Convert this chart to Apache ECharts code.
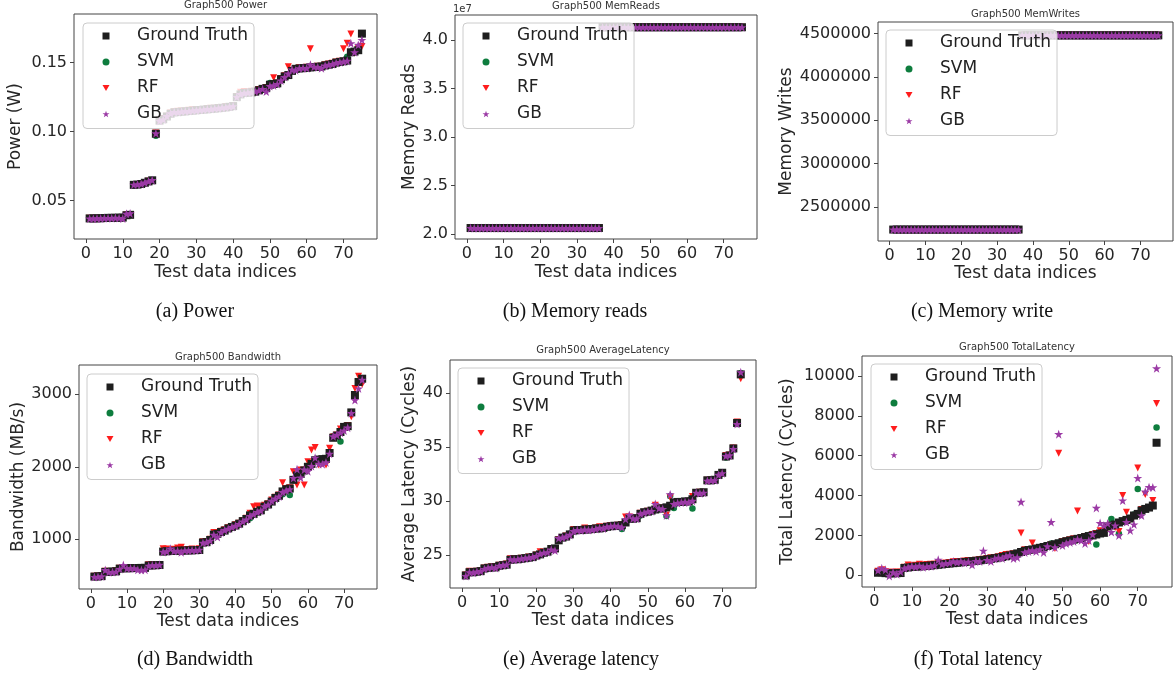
<!DOCTYPE html>
<html><head><meta charset="utf-8">
<script src="https://cdn.jsdelivr.net/npm/echarts@6/dist/echarts.min.js"></script>
<style>html,body{margin:0;padding:0;background:#fff}#c{width:1175px;height:676px}</style>
</head><body><div id="c"></div>
<script>
const indices = [1,2,3,4,5,6,7,8,9,10,11,12,13,14,15,16,17,18,19,20,21,22,23,24,25,26,27,28,29,30,31,32,33,34,35,36,37,38,39,40,41,42,43,44,45,46,47,48,49,50,51,52,53,54,55,56,57,58,59,60,61,62,63,64,65,66,67,68,69,70,71,72,73,74,75];
const modelNames = ['Ground Truth','SVM','RF','GB'];
const xTicks = [0,10,20,30,40,50,60,70];

// (a) Power (W)
const powerTicks = [0.05,0.10,0.15];
const powerGT = [
0.0372,0.0372,0.0373,0.0373,0.0375,0.0376,0.0376,0.0377,0.0377,0.0378,
0.0395,0.0398,0.0615,0.0617,0.0621,0.0630,0.0640,0.0648,0.0985,0.1080,
0.1090,0.1110,0.1130,0.1140,0.1142,0.1145,0.1147,0.1150,0.1152,0.1155,
0.1157,0.1160,0.1162,0.1165,0.1167,0.1170,0.1173,0.1176,0.1180,0.1185,
0.1250,0.1270,0.1280,0.1282,0.1285,0.1290,0.1300,0.1310,0.1315,0.1340,
0.1345,0.1350,0.1380,0.1400,0.1410,0.1440,0.1455,0.1458,0.1460,0.1462,
0.1465,0.1468,0.1470,0.1472,0.1480,0.1485,0.1490,0.1500,0.1505,0.1510,
0.1515,0.1575,0.1580,0.1590,0.1710];
const powerSVM = [
0.0371,0.0373,0.0372,0.0374,0.0376,0.0375,0.0377,0.0376,0.0378,0.0377,
0.0396,0.0399,0.0613,0.0616,0.0620,0.0632,0.0638,0.0650,0.0970,0.1082,
0.1092,0.1108,0.1128,0.1143,0.1140,0.1147,0.1145,0.1152,0.1150,0.1157,
0.1155,0.1162,0.1164,0.1163,0.1169,0.1168,0.1175,0.1174,0.1182,0.1183,
0.1252,0.1268,0.1283,0.1280,0.1288,0.1287,0.1303,0.1308,0.1318,0.1352,
0.1343,0.1353,0.1378,0.1402,0.1408,0.1442,0.1452,0.1460,0.1458,0.1464,
0.1463,0.1470,0.1468,0.1474,0.1478,0.1487,0.1488,0.1502,0.1503,0.1512,
0.1543,0.1572,0.1583,0.1588,0.1705];
const powerRF = [
0.0373,0.0371,0.0374,0.0372,0.0376,0.0377,0.0375,0.0378,0.0376,0.0379,
0.0397,0.0400,0.0618,0.0615,0.0623,0.0628,0.0642,0.0646,0.0990,0.1085,
0.1095,0.1112,0.1135,0.1145,0.1148,0.1150,0.1143,0.1155,0.1158,0.1152,
0.1160,0.1158,0.1166,0.1170,0.1164,0.1174,0.1170,0.1180,0.1178,0.1188,
0.1255,0.1285,0.1290,0.1278,0.1292,0.1283,0.1305,0.1312,0.1320,0.1338,
0.1390,0.1352,0.1385,0.1405,0.1470,0.1445,0.1450,0.1462,0.1457,0.1466,
0.1600,0.1465,0.1473,0.1470,0.1484,0.1490,0.1495,0.1505,0.1510,0.1600,
0.1640,0.1707,0.1570,0.1600,0.1616];
const powerGB = [
0.0371,0.0370,0.0372,0.0372,0.0374,0.0375,0.0374,0.0376,0.0375,0.0371,
0.0405,0.0408,0.0616,0.0618,0.0622,0.0631,0.0641,0.0649,0.0988,0.1078,
0.1088,0.1112,0.1132,0.1142,0.1141,0.1146,0.1148,0.1149,0.1153,0.1154,
0.1158,0.1159,0.1163,0.1164,0.1168,0.1169,0.1174,0.1175,0.1181,0.1184,
0.1251,0.1272,0.1279,0.1283,0.1284,0.1291,0.1298,0.1309,0.1290,0.1330,
0.1335,0.1345,0.1370,0.1395,0.1420,0.1450,0.1445,0.1459,0.1461,0.1460,
0.1485,0.1470,0.1467,0.1460,0.1478,0.1484,0.1489,0.1498,0.1503,0.1508,
0.1512,0.1640,0.1575,0.1628,0.1664];

// (b) Memory reads (x 1e7)
const readsTicks = [2.0,2.5,3.0,3.5,4.0];
const readsGT = [
2.062,2.062,2.062,2.062,2.062,2.062,2.062,2.062,2.062,2.062,
2.062,2.062,2.062,2.062,2.062,2.062,2.062,2.062,2.062,2.062,
2.062,2.062,2.062,2.062,2.062,2.062,2.062,2.062,2.062,2.062,
2.062,2.062,2.062,2.062,2.062,2.062,4.131,4.131,4.131,4.131,
4.131,4.131,4.131,4.131,4.131,4.131,4.131,4.131,4.131,4.131,
4.131,4.131,4.131,4.131,4.131,4.131,4.131,4.131,4.131,4.131,
4.131,4.131,4.131,4.131,4.131,4.131,4.131,4.131,4.131,4.131,
4.131,4.131,4.131,4.131,4.131];
const readsSVM = [
2.062,2.063,2.062,2.061,2.062,2.062,2.063,2.062,2.062,2.061,
2.062,2.062,2.063,2.062,2.062,2.061,2.062,2.062,2.063,2.062,
2.062,2.062,2.061,2.062,2.063,2.062,2.062,2.062,2.061,2.062,
2.062,2.063,2.062,2.062,2.061,2.062,4.130,4.131,4.131,4.132,
4.131,4.131,4.130,4.131,4.131,4.132,4.131,4.131,4.130,4.131,
4.131,4.131,4.132,4.131,4.130,4.131,4.131,4.131,4.132,4.131,
4.131,4.130,4.131,4.131,4.131,4.132,4.131,4.131,4.130,4.131,
4.131,4.131,4.132,4.131,4.131];
const readsRF = [
2.062,2.062,2.062,2.062,2.062,2.062,2.062,2.062,2.062,2.062,
2.062,2.062,2.062,2.062,2.062,2.062,2.062,2.062,2.062,2.062,
2.062,2.062,2.062,2.062,2.062,2.062,2.062,2.062,2.062,2.062,
2.062,2.062,2.062,2.062,2.062,2.062,4.131,4.131,4.131,4.131,
4.131,4.131,4.131,4.131,4.131,4.131,4.131,4.131,4.131,4.131,
4.131,4.131,4.131,4.131,4.131,4.131,4.131,4.131,4.131,4.131,
4.131,4.131,4.131,4.131,4.131,4.131,4.131,4.131,4.131,4.131,
4.131,4.131,4.131,4.131,4.131];
const readsGB = [
2.062,2.062,2.062,2.062,2.062,2.062,2.062,2.062,2.062,2.062,
2.062,2.062,2.062,2.062,2.062,2.062,2.062,2.062,2.062,2.062,
2.062,2.062,2.062,2.062,2.062,2.062,2.062,2.062,2.062,2.062,
2.062,2.062,2.062,2.062,2.062,2.062,4.131,4.131,4.131,4.131,
4.131,4.131,4.131,4.131,4.131,4.131,4.131,4.131,4.131,4.131,
4.131,4.131,4.131,4.131,4.131,4.131,4.131,4.131,4.131,4.131,
4.131,4.131,4.131,4.131,4.131,4.131,4.131,4.131,4.131,4.131,
4.131,4.131,4.131,4.131,4.131];

// (c) Memory writes
const writesTicks = [2500000,3000000,3500000,4000000,4500000];
const writesGT = [
2240000,2240000,2240000,2240000,2240000,2240000,2240000,2240000,2240000,2240000,
2240000,2240000,2240000,2240000,2240000,2240000,2240000,2240000,2240000,2240000,
2240000,2240000,2240000,2240000,2240000,2240000,2240000,2240000,2240000,2240000,
2240000,2240000,2240000,2240000,2240000,2240000,4480000,4480000,4480000,4480000,
4480000,4480000,4480000,4480000,4480000,4480000,4480000,4480000,4480000,4480000,
4480000,4480000,4480000,4480000,4480000,4480000,4480000,4480000,4480000,4480000,
4480000,4480000,4480000,4480000,4480000,4480000,4480000,4480000,4480000,4480000,
4480000,4480000,4480000,4480000,4480000];
const writesSVM = [
2241000,2240000,2239000,2240000,2241000,2240000,2240000,2239000,2240000,2241000,
2240000,2240000,2239000,2240000,2241000,2240000,2240000,2240000,2239000,2240000,
2241000,2240000,2240000,2239000,2240000,2241000,2240000,2240000,2239000,2240000,
2240000,2241000,2240000,2239000,2240000,2240000,4479000,4480000,4481000,4480000,
4480000,4479000,4480000,4481000,4480000,4480000,4479000,4480000,4481000,4480000,
4480000,4479000,4480000,4481000,4480000,4480000,4479000,4480000,4481000,4480000,
4480000,4479000,4480000,4481000,4480000,4480000,4479000,4480000,4481000,4480000,
4480000,4479000,4480000,4481000,4480000];
const writesRF = [
2240000,2240000,2240000,2240000,2240000,2240000,2240000,2240000,2240000,2240000,
2240000,2240000,2240000,2240000,2240000,2240000,2240000,2240000,2240000,2240000,
2240000,2240000,2240000,2240000,2240000,2240000,2240000,2240000,2240000,2240000,
2240000,2240000,2240000,2240000,2240000,2240000,4480000,4480000,4480000,4480000,
4480000,4480000,4480000,4480000,4480000,4480000,4480000,4480000,4480000,4480000,
4480000,4480000,4480000,4480000,4480000,4480000,4480000,4480000,4480000,4480000,
4480000,4480000,4480000,4480000,4480000,4480000,4480000,4480000,4480000,4480000,
4480000,4480000,4480000,4480000,4480000];
const writesGB = [
2240000,2240000,2240000,2240000,2240000,2240000,2240000,2240000,2240000,2240000,
2240000,2240000,2240000,2240000,2240000,2240000,2240000,2240000,2240000,2240000,
2240000,2240000,2240000,2240000,2240000,2240000,2240000,2240000,2240000,2240000,
2240000,2240000,2240000,2240000,2240000,2240000,4480000,4480000,4480000,4480000,
4480000,4480000,4480000,4480000,4480000,4480000,4480000,4480000,4480000,4480000,
4480000,4480000,4480000,4480000,4480000,4480000,4480000,4480000,4480000,4480000,
4480000,4480000,4480000,4480000,4480000,4480000,4480000,4480000,4480000,4480000,
4480000,4480000,4480000,4480000,4480000];

// (d) Bandwidth (MB/s)
const bwTicks = [1000,2000,3000];
const bwGT = [
485,488,492,550,552,555,558,595,600,600,
602,603,604,605,606,638,640,642,645,830,
835,838,840,842,843,845,846,848,850,852,
955,960,990,1065,1075,1100,1120,1150,1170,1190,
1215,1250,1280,1330,1350,1380,1400,1450,1480,1520,
1570,1600,1660,1690,1700,1820,1880,1900,1950,2000,
2040,2090,2100,2105,2110,2190,2400,2430,2480,2550,
2560,2750,2990,3170,3215];
const bwSVM = [
487,490,495,545,550,553,560,590,598,602,
600,605,600,603,608,636,642,640,648,828,
838,835,843,840,846,842,849,845,853,850,
958,962,985,1070,1072,1105,1118,1155,1165,1195,
1210,1255,1275,1290,1355,1375,1405,1445,1485,1515,
1575,1595,1620,1685,1610,1815,1885,1895,1945,2010,
2035,2095,2095,2110,2105,2195,2420,2440,2350,2545,
2565,2745,2985,3165,3210];
const bwRF = [
490,495,500,560,555,550,565,600,610,605,
610,600,608,600,612,650,645,650,650,870,
865,850,862,880,890,855,860,865,858,870,
965,970,1000,1095,1085,1110,1130,1160,1175,1200,
1220,1260,1290,1360,1450,1460,1445,1470,1490,1540,
1580,1610,1780,1700,1710,1930,1750,1955,1750,2070,
2230,2265,2025,2045,2025,2255,2410,2440,2520,2555,
2570,2690,3080,3250,3140];
const bwGB = [
480,482,488,575,545,548,552,590,645,598,
600,598,578,575,580,635,642,640,648,825,
832,870,838,840,820,845,843,850,848,855,
950,958,980,1060,1030,1095,1125,1145,1168,1185,
1210,1245,1270,1320,1345,1375,1395,1455,1475,1530,
1560,1590,1650,1670,1690,1845,1965,1850,1960,1940,
2010,2125,2040,2035,2060,2180,2420,2440,2470,2500,
2540,2740,2920,3080,3200];

// (e) Average latency (cycles)
const avgTicks = [25,30,35,40];
const avgGT = [
23.1,23.4,23.4,23.45,23.5,23.75,23.8,23.85,23.85,24.0,
24.05,24.1,24.55,24.6,24.6,24.65,24.7,24.75,24.8,24.95,
25.05,25.2,25.3,25.55,25.6,26.35,26.6,26.7,26.9,27.25,
27.3,27.3,27.35,27.35,27.4,27.45,27.45,27.5,27.6,27.65,
27.7,27.7,27.75,28.0,28.35,28.35,28.4,28.8,28.95,29.0,
29.1,29.2,29.3,29.3,29.4,29.55,29.85,29.9,29.9,29.95,
29.95,30.15,30.75,30.75,30.8,31.9,31.9,31.95,32.4,32.6,
34.1,34.2,34.85,37.2,41.7];
const avgSVM = [
23.1,23.35,23.45,23.4,23.55,23.7,23.85,23.8,23.9,24.0,
24.1,24.05,24.6,24.55,24.65,24.6,24.75,24.7,24.85,24.9,
25.1,25.15,25.35,25.5,25.65,26.3,26.65,26.65,26.95,27.2,
27.25,27.35,27.3,27.4,27.35,27.5,27.4,27.55,27.55,27.7,
27.65,27.75,27.4,28.1,28.3,28.4,28.35,28.65,28.9,29.05,
29.05,29.25,29.25,29.35,28.6,30.45,29.35,29.85,29.95,29.9,
30.0,29.3,30.7,30.8,30.75,31.85,31.95,31.9,32.45,32.55,
34.0,34.15,34.9,37.1,41.8];
const avgRF = [
23.15,23.5,23.45,23.5,23.5,23.8,23.85,23.9,23.9,24.05,
24.1,24.15,24.65,24.6,24.65,24.7,24.7,24.8,24.85,25.0,
25.3,25.2,25.3,25.6,25.5,26.4,26.6,26.75,26.9,27.35,
27.35,27.3,27.5,27.4,27.45,27.5,27.6,27.5,27.65,27.7,
27.7,27.75,27.8,28.5,28.5,28.4,28.4,28.85,28.95,29.05,
29.1,29.6,29.35,29.3,28.7,30.3,29.8,29.9,29.95,29.95,
29.95,30.4,30.75,30.8,30.75,31.9,31.9,31.95,32.45,32.6,
34.2,34.25,34.9,37.3,41.3];
const avgGB = [
23.05,23.4,23.35,23.45,23.5,23.7,23.8,23.85,23.8,24.0,
24.05,24.1,24.6,24.55,24.6,24.65,24.7,24.75,24.8,24.9,
25.1,25.2,25.25,25.5,25.4,26.55,26.6,26.7,26.85,27.2,
27.3,27.25,27.35,27.3,27.35,27.4,27.5,27.45,27.6,27.65,
27.7,27.65,27.55,28.3,28.7,28.35,28.35,28.8,28.9,29.0,
29.05,29.7,29.3,29.25,28.65,30.6,29.7,29.8,29.85,29.9,
29.85,30.0,30.75,30.7,30.75,31.85,31.9,31.9,32.4,32.55,
34.15,34.2,34.8,37.1,41.9];

// (f) Total latency (cycles)
const totTicks = [0,2000,4000,6000,8000,10000];
const totGT = [
130,155,110,95,100,110,115,370,395,420,
435,445,460,475,490,510,530,550,570,590,
610,630,650,670,690,710,730,750,775,800,
830,860,890,920,960,1000,1050,1100,1170,1230,
1270,1300,1340,1380,1420,1470,1510,1560,1610,1660,
1710,1750,1790,1830,1870,1920,1970,2000,2050,2100,
2130,2450,2500,2550,2650,2720,2780,2850,3000,3080,
3250,3330,3400,3500,6650];
const totSVM = [
150,170,130,120,110,140,130,380,420,450,
460,470,480,490,500,530,540,560,580,600,
620,640,660,680,700,720,740,760,790,810,
840,870,900,930,970,1010,1060,1110,1180,1240,
1280,1310,1350,1390,1430,1480,1600,1570,1600,1670,
1720,1760,1800,1840,1880,1930,1980,2010,1550,2110,
2150,2460,2830,2560,2080,2730,2790,2860,3050,4330,
3330,3350,3420,3520,7420];
const totRF = [
200,280,180,150,160,170,160,400,520,480,
500,560,520,540,560,560,600,580,620,640,
680,700,660,720,740,700,760,800,810,850,
880,900,930,1000,1050,1060,1080,1100,2120,1280,
1300,1620,1360,1400,1450,1500,1520,1350,6120,1700,
1740,1780,1830,3230,1900,1950,1700,2050,2100,2230,
2200,2350,2480,2400,2200,4000,3170,2800,2950,5380,
3300,4050,3400,3750,8620];
const totGB = [
250,350,280,-30,150,60,180,350,400,450,
420,480,400,440,460,500,780,560,600,620,
700,650,700,620,680,530,720,700,1230,760,
700,830,880,850,950,1000,850,900,3680,1150,
1200,1250,1200,1300,1150,1450,2670,1400,7080,1500,
1600,1650,1700,1800,1750,1600,1750,2050,3380,2620,
2500,2600,2170,2500,2000,3750,2670,2250,2550,4880,
3000,4200,4420,4410,10380];

const FONT = '"DejaVu Sans", sans-serif';
const SERIF = '"Liberation Serif", "Times New Roman", serif';
const STAR = 'path://M12,0.6 L14.8,8.9 L23.6,8.9 L16.5,14.1 L19.2,22.5 L12,17.3 L4.8,22.5 L7.5,14.1 L0.4,8.9 L9.2,8.9 Z';
const TRI_DOWN = 'path://M0,0 L20,0 L10,17.3 Z';
// z: SVM and RF drawn beneath the ground-truth squares so dense bands read black/purple
const styles = [
  {symbol:'rect', size:8, color:'#1e1e1e', z:3},
  {symbol:'circle', size:6.5, color:'#0e7d3e', z:2},
  {symbol:TRI_DOWN, size:7, color:'#ff1c1c', z:2},
  {symbol:STAR, size:9, color:'#9b3aa5', z:4}
];

const panels = [
  {grid:{left:74,top:14,width:303,height:225}, y:[0.0223,0.1852], ticks:powerTicks, fmt:v=>v.toFixed(2),
   data:[powerGT,powerSVM,powerRF,powerGB], yname:'Power (W)', yGap:50, xGap:25,
   legend:[83,23], title:'Graph500 Power', tx:225.5, ty:5, cap:'(a) Power', cx:195, cy:312},
  {grid:{left:455,top:15,width:302,height:224}, y:[1.949,4.257], ticks:readsTicks, fmt:v=>v.toFixed(1),
   data:[readsGT,readsSVM,readsRF,readsGB], yname:'Memory Reads', yGap:37, xGap:25,
   legend:[463,23], title:'Graph500 MemReads', tx:606, ty:6, cap:'(b) Memory reads', cx:575, cy:312},
  {grid:{left:878,top:22,width:295,height:219}, y:[2108000,4634000], ticks:writesTicks, fmt:v=>String(v),
   data:[writesGT,writesSVM,writesRF,writesGB], yname:'Memory Writes', yGap:83, xGap:24,
   legend:[886,30], title:'Graph500 MemWrites', tx:1025.5, ty:14, cap:'(c) Memory write', cx:982, cy:312},
  {grid:{left:79,top:365,width:298,height:224}, y:[314,3404], ticks:bwTicks, fmt:v=>String(v),
   data:[bwGT,bwSVM,bwRF,bwGB], yname:'Bandwidth (MB/s)', yGap:52, xGap:23.5,
   legend:[87,374], title:'Graph500 Bandwidth', tx:228, ty:357.5, cap:'(d) Bandwidth', cx:195, cy:660},
  {grid:{left:450,top:360,width:306,height:228}, y:[21.94,43.03], ticks:avgTicks, fmt:v=>String(v),
   data:[avgGT,avgSVM,avgRF,avgGB], yname:'Average Latency (Cycles)', yGap:32, xGap:24.5,
   legend:[458,368], title:'Graph500 AverageLatency', tx:603, ty:350, cap:'(e) Average latency', cx:581, cy:660},
  {grid:{left:862,top:356,width:310,height:231}, y:[-585,11000], ticks:totTicks, fmt:v=>String(v),
   data:[totGT,totSVM,totRF,totGB], yname:'Total Latency (Cycles)', yGap:66, xGap:24.5,
   legend:[871,364], title:'Graph500 TotalLatency', tx:1017, ty:347.5, cap:'(f) Total latency', cx:978, cy:660}
];

const axisText = {fontSize:16, color:'#262626', fontFamily:FONT};
const nameText = {fontSize:17, color:'#262626', fontFamily:FONT};

const grids = panels.map(p => Object.assign({show:true, borderColor:'#444', borderWidth:1, backgroundColor:'transparent', containLabel:false, outerBoundsMode:'none'}, p.grid));

const xAxes = panels.map((p,k) => ({
  type:'value', gridIndex:k, min:-3.25, max:79.1,
  name:'Test data indices', nameLocation:'middle', nameGap:p.xGap, nameTextStyle:nameText,
  axisLine:{show:false, onZero:false},
  axisTick:{show:true, inside:false, length:4, customValues:xTicks, lineStyle:{color:'#444', width:1}},
  axisLabel:Object.assign({show:true, margin:7, customValues:xTicks}, axisText),
  splitLine:{show:false}
}));

const yAxes = panels.map((p,k) => ({
  type:'value', gridIndex:k, min:p.y[0], max:p.y[1],
  name:p.yname, nameLocation:'middle', nameGap:p.yGap, nameRotate:90, nameTextStyle:nameText,
  axisLine:{show:false, onZero:false},
  axisTick:{show:true, inside:false, length:4, customValues:p.ticks, lineStyle:{color:'#444', width:1}},
  axisLabel:Object.assign({show:true, margin:7, customValues:p.ticks, formatter:p.fmt}, axisText),
  splitLine:{show:false}
}));

const series = [];
panels.forEach((p,k) => {
  p.data.forEach((vals,m) => {
    const st = styles[m];
    series.push({
      type:'scatter', name:modelNames[m], xAxisIndex:k, yAxisIndex:k, z:st.z,
      symbol:st.symbol, symbolSize:st.size,
      itemStyle:{color:st.color, opacity:1},
      silent:true, emphasis:{disabled:true},
      data: indices.map((x,i) => [x, vals[i]])
    });
  });
});

const legends = panels.map(p => ({
  orient:'vertical', left:p.legend[0], top:p.legend[1], z:10,
  data:modelNames.slice(),
  itemWidth:7, itemHeight:7, itemGap:9,
  symbolKeepAspect:true,
  backgroundColor:'rgba(255,255,255,0.8)', borderColor:'#cccccc', borderWidth:1, borderRadius:4,
  padding:[4.5,6,6,19.5],
  selectedMode:false,
  textStyle:{fontSize:17, color:'#222', fontFamily:FONT, lineHeight:17, padding:[0,0,0,22.5]}
}));

const graphics = [];
panels.forEach(p => {
  graphics.push({type:'text', x:p.tx, y:p.ty, silent:true,
    style:{text:p.title, textAlign:'center', textVerticalAlign:'middle', align:'center', verticalAlign:'middle',
      font:'10px ' + FONT, fill:'#333'}});
  graphics.push({type:'text', x:p.cx, y:p.cy, silent:true,
    style:{text:p.cap, textAlign:'center', textVerticalAlign:'middle', align:'center', verticalAlign:'middle',
      font:'20px ' + SERIF, fill:'#111'}});
});
graphics.push({type:'text', x:453, y:9, silent:true,
  style:{text:'1e7', textAlign:'left', textVerticalAlign:'middle', align:'left', verticalAlign:'middle',
    font:'10px ' + FONT, fill:'#333'}});

const chart = echarts.init(document.getElementById('c'), null, {renderer:'canvas'});
chart.setOption({
  animation:false,
  backgroundColor:'#ffffff',
  grid:grids, xAxis:xAxes, yAxis:yAxes,
  legend:legends,
  series:series,
  graphic:graphics
});
</script></body></html>
